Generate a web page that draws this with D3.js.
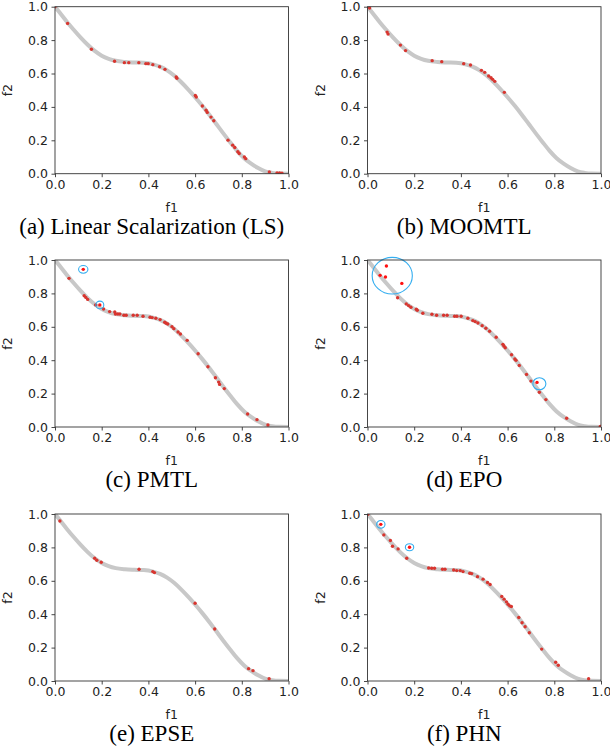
<!DOCTYPE html>
<html>
<head>
<meta charset="utf-8">
<script src="https://cdn.jsdelivr.net/npm/d3@7"></script>
<style>
  html, body { margin: 0; padding: 0; background: #fff; }
  svg { display: block; }
</style>
</head>
<body>
<svg id="chart" width="610" height="756"></svg>
<script>
// ---- Data ----
const ticks = [0.0, 0.2, 0.4, 0.6, 0.8, 1.0];
const captions = ["(a) Linear Scalarization (LS)", "(b) MOOMTL", "(c) PMTL", "(d) EPO", "(e) EPSE", "(f) PHN"];

// Pareto front (grey curve)
const frontF1 = [0, 0.02, 0.05, 0.08, 0.11, 0.14, 0.17, 0.20, 0.23, 0.26, 0.30, 0.34, 0.38, 0.42, 0.45, 0.48, 0.51, 0.54, 0.57, 0.60, 0.63, 0.66, 0.69, 0.72, 0.75, 0.78, 0.81, 0.84, 0.87, 0.90, 0.93, 0.96, 1.0];
const frontF2 = [1.0, 0.965, 0.912, 0.862, 0.815, 0.772, 0.735, 0.707, 0.688, 0.676, 0.669, 0.666, 0.664, 0.655, 0.641, 0.619, 0.588, 0.549, 0.505, 0.458, 0.408, 0.355, 0.299, 0.243, 0.189, 0.137, 0.093, 0.060, 0.034, 0.014, 0.005, 0.001, 0];

// (a) LS
const lsF1 = [0.0, 0.054, 0.156, 0.255, 0.297, 0.316, 0.359, 0.389, 0.399, 0.419, 0.448, 0.471, 0.519, 0.522, 0.601, 0.605, 0.631, 0.647, 0.652, 0.668, 0.680, 0.741, 0.761, 0.770, 0.783, 0.789, 0.811, 0.817, 0.918, 0.951, 0.962, 0.972];
const lsF2 = [1.0, 0.900, 0.745, 0.673, 0.665, 0.665, 0.665, 0.659, 0.659, 0.653, 0.640, 0.625, 0.579, 0.572, 0.468, 0.459, 0.405, 0.380, 0.367, 0.339, 0.317, 0.201, 0.171, 0.157, 0.131, 0.121, 0.100, 0.090, 0.010, 0.005, 0.004, 0.003];

// (b) MOOMTL
const moF1 = [0.007, 0.009, 0.084, 0.088, 0.141, 0.163, 0.277, 0.318, 0.412, 0.441, 0.488, 0.502, 0.519, 0.529, 0.536, 0.545, 0.586];
const moF2 = [1.000, 0.992, 0.848, 0.836, 0.770, 0.737, 0.677, 0.671, 0.659, 0.651, 0.619, 0.607, 0.585, 0.575, 0.565, 0.553, 0.487];

// (c) PMTL
const pmF1 = [0.060, 0.125, 0.132, 0.140, 0.174, 0.208, 0.234, 0.256, 0.259, 0.269, 0.278, 0.295, 0.305, 0.335, 0.352, 0.377, 0.407, 0.416, 0.432, 0.450, 0.470, 0.476, 0.483, 0.501, 0.509, 0.527, 0.537, 0.566, 0.613, 0.655, 0.687, 0.701, 0.705, 0.725, 0.825, 0.865, 0.912];
const pmF2 = [0.890, 0.786, 0.776, 0.764, 0.731, 0.707, 0.691, 0.689, 0.677, 0.677, 0.677, 0.669, 0.669, 0.669, 0.669, 0.663, 0.657, 0.655, 0.651, 0.643, 0.627, 0.621, 0.617, 0.601, 0.589, 0.569, 0.557, 0.519, 0.439, 0.361, 0.295, 0.269, 0.255, 0.230, 0.078, 0.044, 0.012];
const pmOutF1 = [0.121, 0.192];
const pmOutF2 = [0.944, 0.731];

// (d) EPO
const epF1 = [0.129, 0.166, 0.176, 0.186, 0.209, 0.213, 0.237, 0.276, 0.296, 0.326, 0.341, 0.373, 0.383, 0.401, 0.430, 0.451, 0.461, 0.473, 0.491, 0.507, 0.523, 0.551, 0.580, 0.584, 0.590, 0.617, 0.631, 0.636, 0.650, 0.681, 0.700, 0.736, 0.764, 0.853, 0.997];
const epF2 = [0.774, 0.737, 0.727, 0.717, 0.705, 0.699, 0.681, 0.675, 0.669, 0.669, 0.669, 0.663, 0.663, 0.663, 0.651, 0.637, 0.631, 0.623, 0.607, 0.591, 0.573, 0.537, 0.495, 0.485, 0.475, 0.433, 0.407, 0.399, 0.369, 0.315, 0.275, 0.208, 0.164, 0.052, 0.004];
const epOutF1 = [0.081, 0.054, 0.077, 0.147, 0.726];
const epOutF2 = [0.964, 0.908, 0.898, 0.860, 0.267];

// (e) EPSE
const esF1 = [0.021, 0.170, 0.179, 0.198, 0.360, 0.419, 0.426, 0.600, 0.684, 0.829, 0.848, 0.917];
const esF2 = [0.958, 0.735, 0.723, 0.711, 0.669, 0.655, 0.649, 0.466, 0.311, 0.074, 0.062, 0.014];

// (f) PHN
const phF1 = [0.002, 0.070, 0.098, 0.107, 0.131, 0.168, 0.262, 0.275, 0.287, 0.321, 0.332, 0.369, 0.382, 0.397, 0.409, 0.438, 0.446, 0.471, 0.495, 0.514, 0.525, 0.575, 0.585, 0.595, 0.602, 0.609, 0.616, 0.648, 0.662, 0.675, 0.693, 0.746, 0.806, 0.817, 0.947];
const phF2 = [0.998, 0.875, 0.841, 0.807, 0.791, 0.735, 0.677, 0.675, 0.675, 0.669, 0.669, 0.665, 0.661, 0.661, 0.655, 0.645, 0.643, 0.625, 0.610, 0.590, 0.578, 0.506, 0.490, 0.474, 0.460, 0.450, 0.446, 0.380, 0.349, 0.325, 0.289, 0.191, 0.112, 0.094, 0.014];
const phOutF1 = [0.057, 0.180];
const phOutF2 = [0.938, 0.801];

// Highlight ellipses in data units: centre f1, centre f2, half-width (f1), half-height (f2)
const pmRings = [[0.121, 0.944, 0.020, 0.023], [0.192, 0.731, 0.017, 0.023]];
const epRings = [[0.106, 0.906, 0.086, 0.110], [0.736, 0.259, 0.028, 0.036]];
const phRings = [[0.057, 0.938, 0.018, 0.023], [0.180, 0.801, 0.018, 0.021]];

const panelData = [
  { f1: lsF1, f2: lsF2, o1: [], o2: [], rings: [] },
  { f1: moF1, f2: moF2, o1: [], o2: [], rings: [] },
  { f1: pmF1, f2: pmF2, o1: pmOutF1, o2: pmOutF2, rings: pmRings },
  { f1: epF1, f2: epF2, o1: epOutF1, o2: epOutF2, rings: epRings },
  { f1: esF1, f2: esF2, o1: [], o2: [], rings: [] },
  { f1: phF1, f2: phF2, o1: phOutF1, o2: phOutF2, rings: phRings }
];

// ---- Layout ----
const svg = d3.select("#chart");
const colX = [55, 367.5];
const rowY = [6.7, 260, 514];
const W = 233.5, H = 167;

const tickFont = "DejaVu Sans, sans-serif";
const front = frontF1.map((v, i) => [v, frontF2[i]]);

panelData.forEach((p, k) => {
  const col = k % 2, row = Math.floor(k / 2);
  const g = svg.append("g").attr("transform", `translate(${colX[col]},${rowY[row]})`);
  const x = d3.scaleLinear().domain([0, 1]).range([0, W]);
  const y = d3.scaleLinear().domain([0, 1]).range([H, 0]);

  const cid = "clip" + k;
  g.append("clipPath").attr("id", cid).append("rect").attr("x", 0).attr("y", 0).attr("width", W).attr("height", H);
  const plot = g.append("g").attr("clip-path", `url(#${cid})`);

  plot.append("path")
    .datum(front)
    .attr("fill", "none")
    .attr("stroke", "#c8c8c8")
    .attr("stroke-width", 4)
    .attr("d", d3.line().x(d => x(d[0])).y(d => y(d[1])).curve(d3.curveMonotoneX));

  plot.selectAll("circle.pt")
    .data(p.f1.map((v, i) => [v, p.f2[i]]))
    .join("circle")
    .attr("class", "pt")
    .attr("cx", d => x(d[0])).attr("cy", d => y(d[1]))
    .attr("r", 1.7)
    .attr("fill", "#d8352f");

  plot.selectAll("circle.out")
    .data(p.o1.map((v, i) => [v, p.o2[i]]))
    .join("circle")
    .attr("class", "out")
    .attr("cx", d => x(d[0])).attr("cy", d => y(d[1]))
    .attr("r", 1.7)
    .attr("fill", "#ff1010");

  g.selectAll("ellipse.ring")
    .data(p.rings)
    .join("ellipse")
    .attr("class", "ring")
    .attr("cx", d => x(d[0])).attr("cy", d => y(d[1]))
    .attr("rx", d => x(d[2]) - x(0)).attr("ry", d => y(0) - y(d[3]))
    .attr("fill", "none")
    .attr("stroke", "#34aef0")
    .attr("stroke-width", 1.1);

  const xa = g.append("g").attr("transform", `translate(0,${H})`)
    .call(d3.axisBottom(x).tickValues(ticks).tickFormat(d3.format(".1f")).tickSize(3.5).tickPadding(3));
  const ya = g.append("g")
    .call(d3.axisLeft(y).tickValues(ticks).tickFormat(d3.format(".1f")).tickSize(3.5).tickPadding(3.5));
  [xa, ya].forEach(a => {
    a.select(".domain").remove();
    a.selectAll("line").attr("stroke", "#333").attr("stroke-width", 0.9);
    a.selectAll("text").attr("font-family", tickFont).attr("font-size", 12.5).attr("fill", "#222");
  });

  g.append("rect").attr("x", 0).attr("y", 0).attr("width", W).attr("height", H)
    .attr("fill", "none").attr("stroke", "#333").attr("stroke-width", 0.9);

  g.append("text").attr("x", W / 2).attr("y", H + 38)
    .attr("text-anchor", "middle").attr("font-family", tickFont).attr("font-size", 12.5).attr("fill", "#222")
    .text("f1");
  g.append("text").attr("transform", `translate(${-43},${H / 2}) rotate(-90)`)
    .attr("text-anchor", "middle").attr("font-family", tickFont).attr("font-size", 12.5).attr("fill", "#222")
    .text("f2");

  g.append("text").attr("x", W / 2 - 20).attr("y", H + 60)
    .attr("text-anchor", "middle").attr("font-family", "'Liberation Serif', 'Times New Roman', serif")
    .attr("font-size", 23).attr("fill", "#000")
    .text(captions[k]);
});
</script>
</body>
</html>
